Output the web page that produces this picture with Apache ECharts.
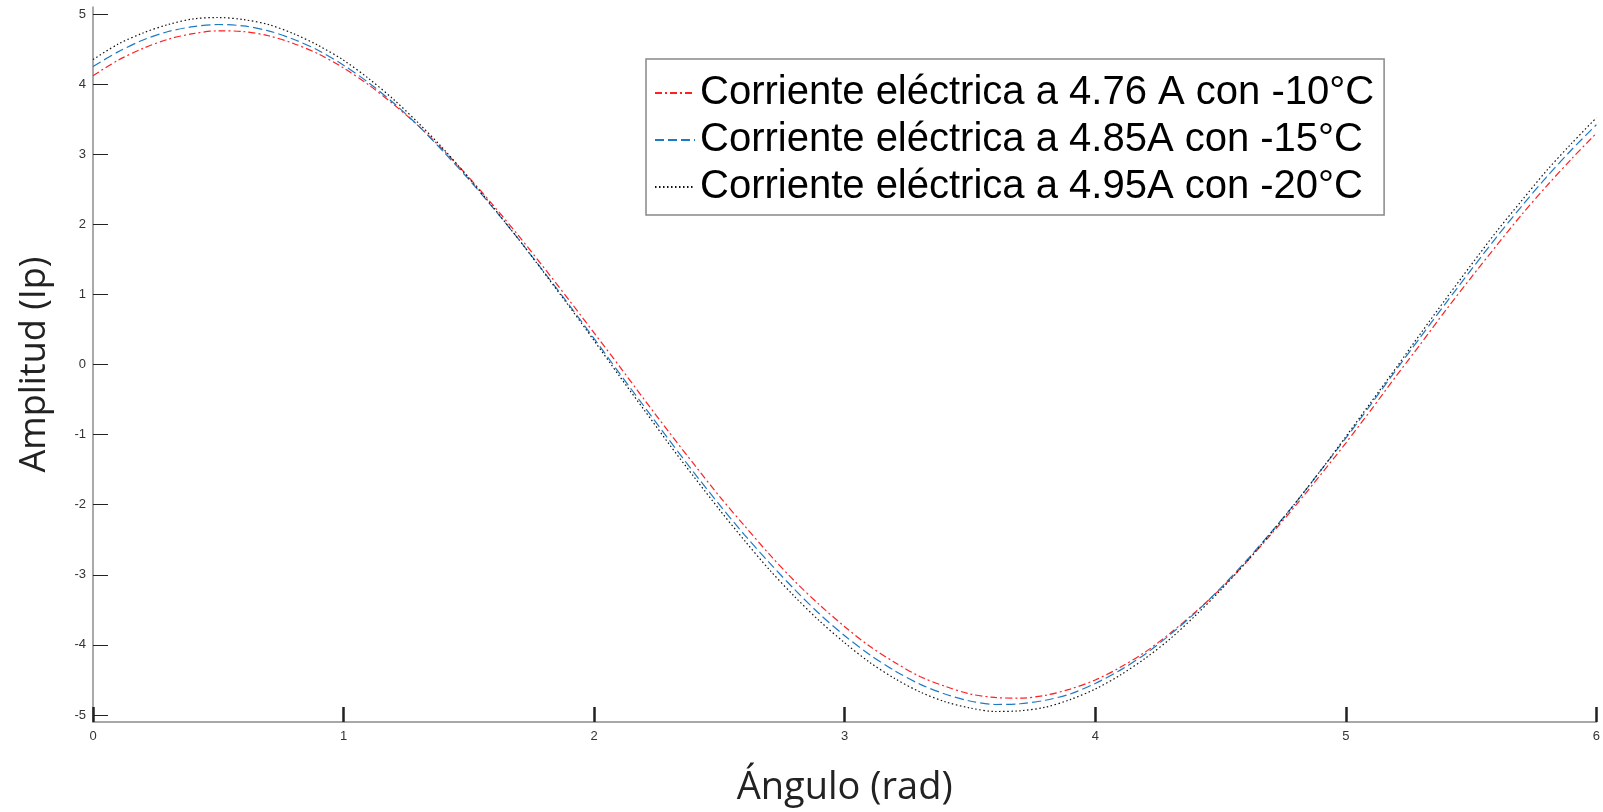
<!DOCTYPE html>
<html>
<head>
<meta charset="utf-8">
<script src="https://cdn.jsdelivr.net/npm/echarts@6/dist/echarts.min.js"></script>
<style>
  html, body { margin: 0; padding: 0; background: #fff; }
  #myChart { width: 1603px; height: 812px; }
</style>
</head>
<body>
<div id="myChart"></div>
<script>
var angulo = [0, 0.1, 0.2, 0.3, 0.4, 0.5, 0.6, 0.7, 0.8, 0.9,
  1, 1.1, 1.2, 1.3, 1.4, 1.5, 1.6, 1.7, 1.8, 1.9,
  2, 2.1, 2.2, 2.3, 2.4, 2.5, 2.6, 2.7, 2.8, 2.9,
  3, 3.1, 3.2, 3.3, 3.4, 3.5, 3.6, 3.7, 3.8, 3.9,
  4, 4.1, 4.2, 4.3, 4.4, 4.5, 4.6, 4.7, 4.8, 4.9,
  5, 5.1, 5.2, 5.3, 5.4, 5.5, 5.6, 5.7, 5.8, 5.9,
  6];

// -10°C, 4.76 A
var corriente10 = [4.12, 4.34, 4.51, 4.64, 4.72, 4.76, 4.75, 4.69, 4.58, 4.43,
  4.23, 3.99, 3.71, 3.40, 3.05, 2.67, 2.26, 1.83, 1.38, 0.92,
  0.45, -0.02, -0.50, -0.97, -1.43, -1.88, -2.30, -2.71, -3.09, -3.43,
  -3.74, -4.02, -4.25, -4.45, -4.59, -4.70, -4.75, -4.76, -4.72, -4.63,
  -4.50, -4.32, -4.10, -3.83, -3.53, -3.20, -2.83, -2.43, -2.01, -1.57,
  -1.12, -0.65, -0.17, 0.30, 0.78, 1.24, 1.69, 2.13, 2.54, 2.93,
  3.30];
// -15°C, 4.85 A
var corriente15 = [4.25, 4.46, 4.63, 4.75, 4.82, 4.85, 4.83, 4.76, 4.64, 4.48,
  4.27, 4.02, 3.73, 3.40, 3.03, 2.64, 2.22, 1.78, 1.32, 0.85,
  0.37, -0.12, -0.60, -1.08, -1.55, -2.00, -2.43, -2.83, -3.21, -3.56,
  -3.87, -4.14, -4.37, -4.56, -4.70, -4.80, -4.85, -4.84, -4.79, -4.70,
  -4.55, -4.36, -4.13, -3.85, -3.54, -3.19, -2.81, -2.40, -1.97, -1.51,
  -1.05, -0.57, -0.08, 0.40, 0.88, 1.35, 1.81, 2.25, 2.67, 3.06,
  3.42];
// -20°C, 4.95 A
var corriente20 = [4.35, 4.57, 4.73, 4.85, 4.93, 4.95, 4.92, 4.85, 4.72, 4.55,
  4.34, 4.08, 3.78, 3.44, 3.07, 2.66, 2.23, 1.78, 1.31, 0.83,
  0.34, -0.16, -0.65, -1.14, -1.61, -2.07, -2.51, -2.93, -3.31, -3.66,
  -3.97, -4.25, -4.48, -4.67, -4.81, -4.90, -4.95, -4.94, -4.89, -4.78,
  -4.63, -4.43, -4.19, -3.91, -3.58, -3.22, -2.83, -2.41, -1.97, -1.51,
  -1.03, -0.54, -0.05, 0.45, 0.94, 1.42, 1.89, 2.33, 2.76, 3.15,
  3.52];

var nombres = ['Corriente eléctrica a 4.76 A con -10°C',
  'Corriente eléctrica a 4.85A con -15°C',
  'Corriente eléctrica a 4.95A con -20°C'];

var yTicks = [-5, -4, -3, -2, -1, 0, 1, 2, 3, 4, 5];

function pares(ys) {
  var out = [];
  for (var i = 0; i < angulo.length; i++) {
    out.push([angulo[i], ys[i]]);
  }
  return out;
}

var myChart = echarts.init(document.getElementById('myChart'));
var option = {
  backgroundColor: '#fff',
  animation: false,
  grid: { left: 93, right: 6, top: 7, bottom: 81 },
  legend: {
    orient: 'vertical',
    left: 646,
    top: 59,
    padding: [14, 10, 8, 8],
    itemGap: 7,
    itemWidth: 40,
    itemHeight: 14,
    borderColor: '#888',
    borderWidth: 1.5,
    selectedMode: false,
    itemStyle: { opacity: 0 },
    data: nombres,
    textStyle: {
      fontFamily: 'Liberation Sans',
      fontSize: 40,
      lineHeight: 40,
      color: '#000'
    }
  },
  xAxis: {
    type: 'value',
    min: 0,
    max: 6,
    interval: 1,
    name: 'Ángulo (rad)',
    nameLocation: 'middle',
    nameGap: 47,
    nameTextStyle: { fontFamily: 'Open Sans', fontSize: 38, color: '#222' },
    splitLine: { show: false },
    axisLine: { onZero: false, lineStyle: { color: '#8c8c8c', width: 1.5 } },
    axisTick: { inside: true, length: 15, lineStyle: { color: '#222', width: 2.5 } },
    axisLabel: { fontFamily: 'Liberation Sans', fontSize: 13, color: '#333', margin: 8 }
  },
  yAxis: {
    type: 'value',
    min: -5.1,
    max: 5.1,
    name: 'Amplitud (Ip)',
    nameLocation: 'middle',
    nameRotate: 90,
    nameGap: 40,
    nameTextStyle: { fontFamily: 'Open Sans', fontSize: 36, color: '#222' },
    splitLine: { show: false },
    axisLine: { show: true, onZero: false, lineStyle: { color: '#8c8c8c', width: 1.5 } },
    axisTick: { inside: true, length: 15, customValues: yTicks, lineStyle: { color: '#222', width: 1 } },
    axisLabel: { customValues: yTicks, fontFamily: 'Liberation Sans', fontSize: 13, color: '#333', margin: 7 }
  },
  series: [
    {
      name: nombres[0],
      type: 'line',
      smooth: 0.3,
      symbol: 'none',
      data: pares(corriente10),
      lineStyle: { color: '#ff2020', width: 1.2, type: [7, 3, 2, 3] },
      itemStyle: { color: '#ff2020' }
    },
    {
      name: nombres[1],
      type: 'line',
      smooth: 0.3,
      symbol: 'none',
      data: pares(corriente15),
      lineStyle: { color: '#1f7ac4', width: 1.2, type: [9, 4] },
      itemStyle: { color: '#1f7ac4' }
    },
    {
      name: nombres[2],
      type: 'line',
      smooth: 0.3,
      symbol: 'none',
      data: pares(corriente20),
      lineStyle: { color: '#111', width: 1.2, type: [1.5, 2.5] },
      itemStyle: { color: '#111' }
    }
  ]
};
myChart.setOption(option, true);
</script>
</body>
</html>
